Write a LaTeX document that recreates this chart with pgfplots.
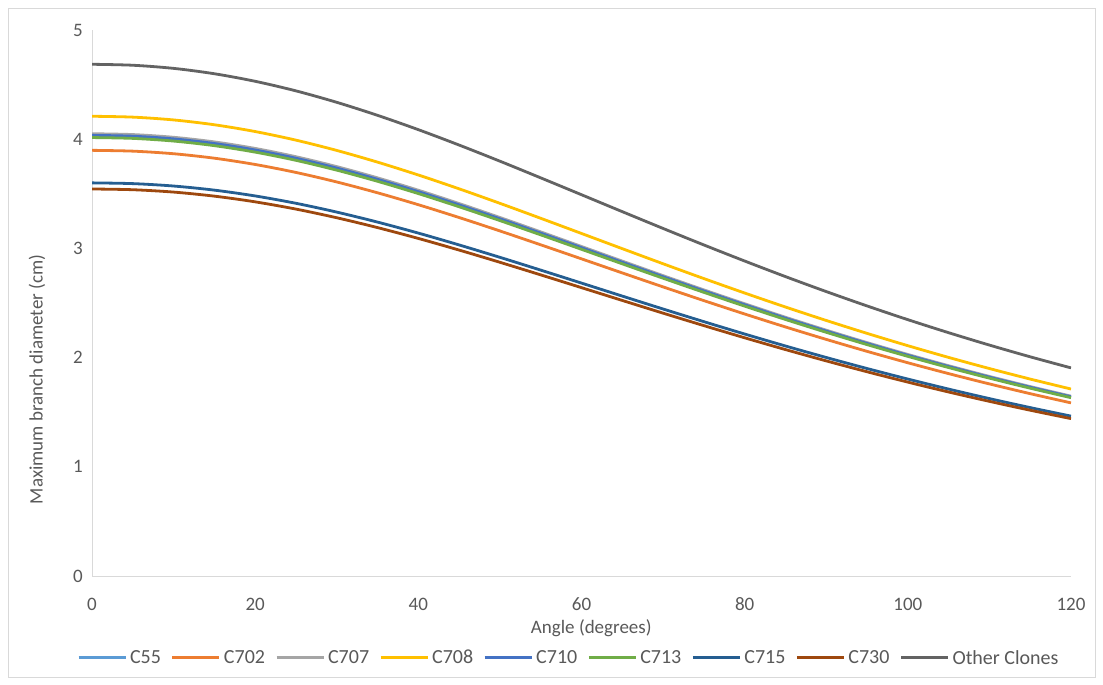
\documentclass[border=0pt]{standalone}
\usepackage{fontspec}
\setmainfont{Carlito}
\usepackage{pgfplots}
\pgfplotsset{compat=1.18}
\definecolor{cA}{HTML}{5B9BD5}
\definecolor{cB}{HTML}{ED7D31}
\definecolor{cC}{HTML}{A5A5A5}
\definecolor{cD}{HTML}{FFC000}
\definecolor{cE}{HTML}{4472C4}
\definecolor{cF}{HTML}{70AD47}
\definecolor{cG}{HTML}{255E91}
\definecolor{cH}{HTML}{9E480E}
\definecolor{cI}{HTML}{636363}
\definecolor{txt}{HTML}{595959}
\definecolor{axl}{HTML}{D9D9D9}
\begin{document}
\begin{tikzpicture}[x=1pt,y=1pt]
\fill[white] (0,0) rectangle (1103,685);
\draw[axl, line width=0.8pt] (8,8) rectangle (1095,677);
\begin{axis}[
  at={(92pt,109pt)}, anchor=south west,
  scale only axis, width=979pt, height=546pt,
  xmin=0, xmax=120, ymin=0, ymax=5,
  xtick={0,20,...,120}, ytick={0,1,...,5},
  axis x line=bottom, axis y line=left,
  axis line style={axl, line width=0.8pt, -},
  tick style={draw=none},
  /pgf/number format/assume math mode=true,
  ticklabel style={font=\fontsize{19}{22}\selectfont, text=txt},
  xticklabel style={anchor=center, yshift=-26pt},
  yticklabel style={anchor=center, xshift=-12pt},
  xlabel={Angle (degrees)},
  ylabel={Maximum branch diameter (cm)},
  label style={font=\fontsize{19}{22}\selectfont, text=txt},
  xlabel style={at={(axis description cs:0.51,-0.0952)}, anchor=center},
  ylabel style={at={(axis description cs:-0.0562,0.36)}, anchor=center},
  legend columns=9,
  legend style={at={(0.487,-0.150)}, anchor=center, draw=none, fill=none,
    font=\fontsize{20}{23}\selectfont, text=txt,
    nodes={inner sep=2pt},
    /tikz/every odd column/.append style={column sep=1pt},
    /tikz/every even column/.append style={column sep=8pt}},
  legend image code/.code={\draw[#1, line width=3pt] (0pt,0pt) -- (47pt,0pt);},
  every axis plot/.append style={line width=2.8pt, smooth, no marks},
]
\addplot[cA] coordinates {(0,4.03)(5,4.0224)(10,3.9978)(15,3.9555)(20,3.8961)(25,3.8206)(30,3.7305)(35,3.6279)(40,3.5151)(45,3.3939)(50,3.2668)(55,3.1356)(60,3.0026)(65,2.8693)(70,2.7371)(75,2.6072)(80,2.4806)(85,2.3578)(90,2.2400)(95,2.1269)(100,2.0188)(105,1.9161)(110,1.8186)(115,1.7263)(120,1.6390)};
\addlegendentry{C55}
\addplot[cB] coordinates {(0,3.898)(5,3.8906)(10,3.8669)(15,3.8260)(20,3.7685)(25,3.6955)(30,3.6083)(35,3.5091)(40,3.4000)(45,3.2827)(50,3.1598)(55,3.0329)(60,2.9043)(65,2.7753)(70,2.6474)(75,2.5218)(80,2.3993)(85,2.2806)(90,2.1666)(95,2.0572)(100,1.9527)(105,1.8533)(110,1.7590)(115,1.6697)(120,1.5853)};
\addlegendentry{C702}
\addplot[cC] coordinates {(0,4.05)(5,4.0424)(10,4.0176)(15,3.9752)(20,3.9155)(25,3.8396)(30,3.7490)(35,3.6459)(40,3.5326)(45,3.4107)(50,3.2830)(55,3.1512)(60,3.0175)(65,2.8836)(70,2.7506)(75,2.6201)(80,2.4929)(85,2.3695)(90,2.2511)(95,2.1374)(100,2.0288)(105,1.9256)(110,1.8276)(115,1.7348)(120,1.6471)};
\addlegendentry{C707}
\addplot[cD] coordinates {(0,4.21)(5,4.2021)(10,4.1764)(15,4.1322)(20,4.0701)(25,3.9913)(30,3.8971)(35,3.7899)(40,3.6721)(45,3.5455)(50,3.4127)(55,3.2757)(60,3.1367)(65,2.9975)(70,2.8593)(75,2.7236)(80,2.5914)(85,2.4632)(90,2.3400)(95,2.2219)(100,2.1090)(105,2.0016)(110,1.8998)(115,1.8034)(120,1.7122)};
\addlegendentry{C708}
\addplot[cE] coordinates {(0,4.035)(5,4.0274)(10,4.0028)(15,3.9605)(20,3.9010)(25,3.8254)(30,3.7351)(35,3.6324)(40,3.5195)(45,3.3981)(50,3.2709)(55,3.1395)(60,3.0064)(65,2.8729)(70,2.7405)(75,2.6104)(80,2.4837)(85,2.3608)(90,2.2427)(95,2.1295)(100,2.0213)(105,1.9184)(110,1.8208)(115,1.7284)(120,1.6410)};
\addlegendentry{C710}
\addplot[cF] coordinates {(0,4.015)(5,4.0074)(10,3.9829)(15,3.9408)(20,3.8816)(25,3.8064)(30,3.7166)(35,3.6144)(40,3.5020)(45,3.3812)(50,3.2546)(55,3.1240)(60,2.9915)(65,2.8586)(70,2.7269)(75,2.5975)(80,2.4714)(85,2.3491)(90,2.2316)(95,2.1189)(100,2.0113)(105,1.9089)(110,1.8118)(115,1.7198)(120,1.6329)};
\addlegendentry{C713}
\addplot[cG] coordinates {(0,3.60)(5,3.5932)(10,3.5712)(15,3.5335)(20,3.4804)(25,3.4130)(30,3.3324)(35,3.2408)(40,3.1401)(45,3.0317)(50,2.9182)(55,2.8011)(60,2.6823)(65,2.5632)(70,2.4450)(75,2.3290)(80,2.2159)(85,2.1063)(90,2.0010)(95,1.9000)(100,1.8034)(105,1.7116)(110,1.6245)(115,1.5421)(120,1.4641)};
\addlegendentry{C715}
\addplot[cH] coordinates {(0,3.544)(5,3.5373)(10,3.5157)(15,3.4785)(20,3.4263)(25,3.3599)(30,3.2806)(35,3.1904)(40,3.0912)(45,2.9846)(50,2.8728)(55,2.7575)(60,2.6405)(65,2.5233)(70,2.4070)(75,2.2928)(80,2.1814)(85,2.0735)(90,1.9698)(95,1.8704)(100,1.7753)(105,1.6850)(110,1.5993)(115,1.5181)(120,1.4413)};
\addlegendentry{C730}
\addplot[cI] coordinates {(0,4.686)(5,4.6772)(10,4.6486)(15,4.5994)(20,4.5303)(25,4.4425)(30,4.3377)(35,4.2184)(40,4.0873)(45,3.9463)(50,3.7986)(55,3.6460)(60,3.4914)(65,3.3364)(70,3.1826)(75,3.0315)(80,2.8844)(85,2.7417)(90,2.6046)(95,2.4731)(100,2.3474)(105,2.2280)(110,2.1146)(115,2.0072)(120,1.9058)};
\addlegendentry{Other Clones}
\end{axis}
\end{tikzpicture}
\end{document}
